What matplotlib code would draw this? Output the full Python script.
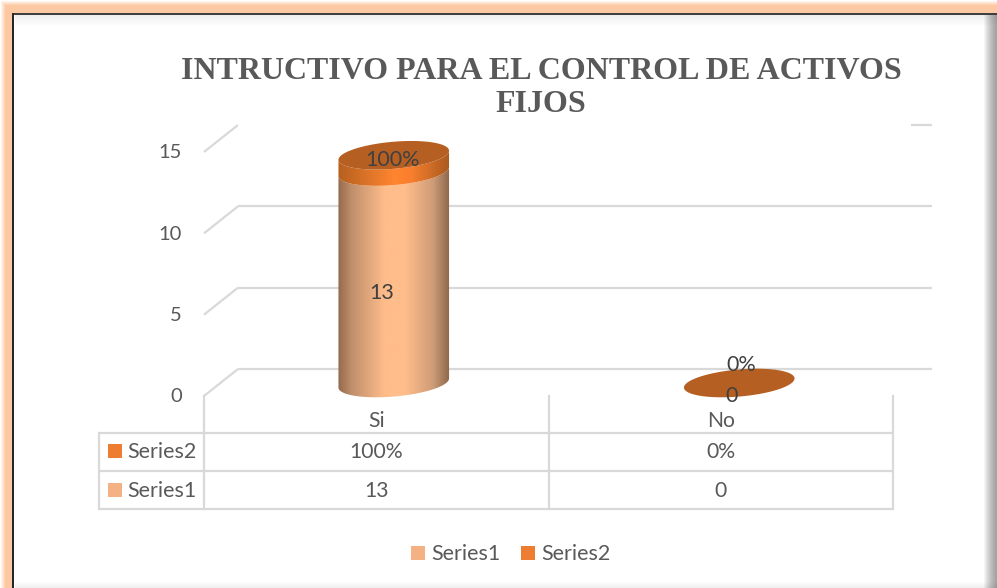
import numpy as np
import matplotlib
matplotlib.use("Agg")
import matplotlib.pyplot as plt
from matplotlib.patches import Polygon, Rectangle
from matplotlib.colors import LinearSegmentedColormap

categories = ["Si", "No"]
series1 = [13, 0]
series2 = [1.0, 0.0]
series_names = ["Series1", "Series2"]
y_ticks = [0, 5, 10, 15]
title = "INTRUCTIVO PARA EL CONTROL DE ACTIVOS\nFIJOS"

W, H = 997, 588
TXT = "#595959"
LAB = "#404040"
GRID = "#d9d9d9"
SANS = "Lato"

fig = plt.figure(figsize=(W / 100, H / 100), dpi=100)
px = fig.add_axes([0, 0, 1, 1], zorder=1)
px.set_axis_off()
px.set_xlim(0, W)
px.set_ylim(H, 0)
px.set_autoscale_on(False)

# frame background
img = np.ones((H, W, 3))
peach = np.array([253, 201, 163]) / 255
yy, xx = np.mgrid[0:H, 0:W]
outer = np.minimum(np.clip(xx / 5, 0, 1), np.clip(yy / 5, 0, 1))
ring = (xx < 13) | (yy < 13)
img[ring] = (1 - outer[ring, None]) + outer[ring, None] * peach
img[(yy >= 13) & (yy <= 14) & (xx >= 12)] = [0.25, 0.25, 0.25]
img[(xx >= 12) & (xx <= 13) & (yy >= 13)] = [0.15, 0.15, 0.15]
inner = (xx >= 15) & (yy >= 15)
sh_top = np.clip((yy - 15) / 11, 0, 1) * 0.06 + 0.94
sh_right = 0.62 + 0.38 * np.clip((997 - xx) / 15, 0, 1) ** 1.5
sh_bot = np.clip((587 - yy) / 6, 0, 1) * 0.06 + 0.94
shade = sh_top * sh_right * sh_bot
img[inner] = np.repeat(shade[inner][:, None], 3, axis=1)
px.imshow(img, extent=(0, W, H, 0), aspect="auto", zorder=0, interpolation="nearest")

# value / category axes on the front plane
ax = fig.add_axes([204 / W, (H - 396) / H, 689 / W, 244 / H], zorder=0)
ax.set_xlim(0, 2)
ax.set_ylim(0, 15)
ax.set_axis_off()


def to_px(x, v):
    d = ax.transData.transform((x, v))
    p = px.transData.inverted().transform(d)
    return p[0], p[1]


DX, DY = 34, -27
x0, x1 = to_px(0, 0)[0], to_px(2, 0)[0]
for t in y_ticks:
    xa, ya = to_px(0, t)
    px.plot([xa, xa + DX], [ya, ya + DY], color=GRID, lw=1.6, zorder=2, solid_capstyle="butt")
    px.plot([xa + DX, x1 + 39], [ya + DY, ya + DY], color=GRID, lw=1.6, zorder=2, solid_capstyle="butt")
    px.text(xa - 22, ya + 1, str(t), ha="right", va="center", fontsize=14.5,
            color=TXT, family=SANS, zorder=6)

# white block behind the title
px.add_patch(Rectangle((238, 50), 673, 85, fc="white", ec="none", zorder=3))
px.text(541, 88, title, ha="center", va="center", fontsize=23, fontweight="bold",
        color=TXT, family="Liberation Serif", linespacing=1.2, zorder=6)

# cylinders
A, B, TILT = 55.5, 13.5, np.deg2rad(-5)


def arc(cx, cy, t):
    return np.c_[cx + A * np.cos(t) * np.cos(TILT) - B * np.sin(t) * np.sin(TILT),
                 cy + A * np.cos(t) * np.sin(TILT) + B * np.sin(t) * np.cos(TILT)]


def body(cx, cy_low, cy_high, cmap, z):
    low = arc(cx, cy_low, np.linspace(0, np.pi, 60))
    high = arc(cx, cy_high, np.linspace(np.pi, 0, 60))
    poly = Polygon(np.r_[low, high], closed=True, fc="none", ec="none", zorder=z)
    px.add_patch(poly)
    im = px.imshow(np.linspace(0, 1, 256)[None, :], cmap=cmap, vmin=0, vmax=1,
                   extent=(cx - A, cx + A, cy_low + 30, cy_high - 30), aspect="auto", zorder=z)
    im.set_clip_path(poly)


cm1 = LinearSegmentedColormap.from_list("s1", [(0, "#94694c"), (0.12, "#c08f6c"), (0.42, "#ffbd8b"),
                                               (0.6, "#ffbd8b"), (0.85, "#cf9c78"), (1, "#8a664c")])
cm2 = LinearSegmentedColormap.from_list("s2", [(0, "#b5601f"), (0.5, "#ff8530"), (0.65, "#f97f2d"), (1, "#a85a20")])

for i, cat in enumerate(categories):
    xc = i + 0.5
    base_x, base_y = to_px(xc, 0)
    cx, cy0 = base_x + 17.5 + i, base_y - 13
    cy1 = to_px(xc, series1[i])[1] - 13
    cy2 = to_px(xc, series1[i] + series2[i])[1] - 13
    if series1[i] > 0:
        body(cx, cy0, cy1, cm1, 4)
    if series2[i] > 0:
        body(cx, cy1, cy2, cm2, 4.1)
    top = arc(cx, cy2, np.linspace(0, 2 * np.pi, 120))
    px.add_patch(Polygon(top, closed=True, fc="#b65f22", ec="none", zorder=4.2))

# data labels
LFS = 15.5
px.text(393, 160, f"{series2[0]:.0%}", ha="center", va="center", fontsize=LFS, color=LAB, family=SANS, zorder=6)
px.text(382, 293, str(series1[0]), ha="center", va="center", fontsize=LFS, color=LAB, family=SANS, zorder=6)
px.text(741, 365, f"{series2[1]:.0%}", ha="center", va="center", fontsize=LFS, color=LAB, family=SANS, zorder=6)
px.text(732, 396, str(series1[1]), ha="center", va="center", fontsize=LFS, color=LAB, family=SANS, zorder=6)

# data table
for y in (433, 471, 509):
    px.plot([99, 894], [y, y], color=GRID, lw=1.6, zorder=2, solid_capstyle="butt")
px.plot([99, 99], [433, 509], color=GRID, lw=1.6, zorder=2)
for x in (204, 549, 893):
    px.plot([x, x], [396, 509], color=GRID, lw=1.6, zorder=2)

COL = ["#f4b183", "#ed7d31"]
rows = [(452, series_names[1], COL[1], [f"{v:.0%}" for v in series2]),
        (491, series_names[0], COL[0], [str(v) for v in series1])]
for y, name, col, vals in rows:
    px.add_patch(Rectangle((108, y - 8), 14, 14, fc=col, ec="none", zorder=5))
    px.text(127, y, name, ha="left", va="center", fontsize=15.5, color=TXT, family=SANS, zorder=6)
    for i, v in enumerate(vals):
        px.text(to_px(i + 0.5, 0)[0], y, v, ha="center", va="center", fontsize=15.2,
                color=TXT, family=SANS, zorder=6)
for i, c in enumerate(categories):
    px.text(to_px(i + 0.5, 0)[0], 421, c, ha="center", va="center", fontsize=15.2,
            color=TXT, family=SANS, zorder=6)

# legend
for xs, name, col in [(411, series_names[0], COL[0]), (521, series_names[1], COL[1])]:
    px.add_patch(Rectangle((xs, 546), 14, 14, fc=col, ec="none", zorder=5))
    px.text(xs + 20, 554, name, ha="left", va="center", fontsize=15.5, color=TXT, family=SANS, zorder=6)

fig.savefig("out.png", dpi=100)
